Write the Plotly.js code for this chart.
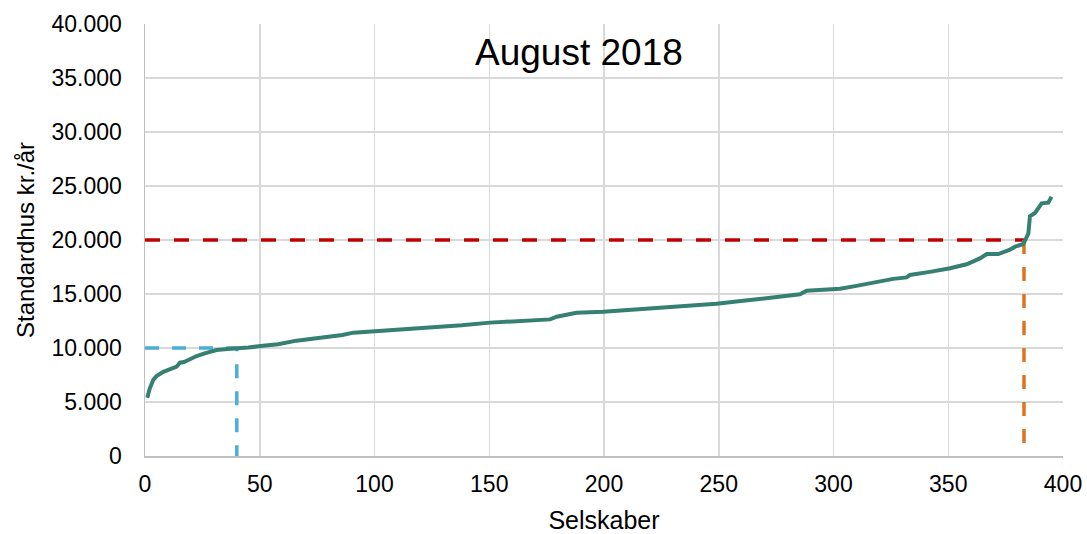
<!DOCTYPE html>
<html>
<head>
<meta charset="utf-8">
<script src="https://cdn.plot.ly/plotly-3.0.1.min.js"></script>
<style>html,body{margin:0;padding:0;background:#fff;}#chart{width:1087px;height:534px;}</style>
</head>
<body>
<div id="chart"></div>
<script>
// Sorted standard-house cost per company
const companyX = [1, 2, 3.6, 5, 8, 11, 13.8, 15.2, 17, 18.9, 22.5, 26, 31.2, 36, 39.9, 45, 51.5, 58, 66, 73, 80.6, 86, 90.8, 97, 103.8, 110, 118, 125.6, 138, 150.3, 163, 176.5, 179.4, 188, 199.7, 212.7, 220, 232, 241.8, 249, 263.6, 275, 285.4, 288.3, 302.8, 310, 318.8, 326, 331.8, 333.3, 342, 350.8, 358, 363.8, 366.8, 371.8, 376.9, 379.1, 382.7, 384.9, 385.6, 387.8, 390.7, 393.6, 395];
const costValues = [5400, 6200, 7050, 7400, 7800, 8050, 8270, 8640, 8700, 8890, 9260, 9500, 9810, 9900, 9950, 10050, 10200, 10350, 10680, 10850, 11000, 11200, 11420, 11500, 11600, 11700, 11800, 11900, 12100, 12350, 12500, 12650, 12900, 13270, 13360, 13580, 13670, 13850, 14070, 14100, 14440, 14700, 14970, 15300, 15490, 15750, 16140, 16400, 16540, 16760, 17050, 17380, 17750, 18300, 18700, 18700, 19100, 19380, 19630, 20600, 22200, 22500, 23400, 23460, 24000];

const lowLimitX = [0, 40, 40];
const lowLimitY = [10000, 10000, 0];
const highLimitX = [0, 383];
const highLimitY = [20000, 20000];
const cutX = [383, 383];
const cutY = [20000, 0];

const yTickVals = [0, 5000, 10000, 15000, 20000, 25000, 30000, 35000, 40000];
const yTickText = ["0", "5.000", "10.000", "15.000", "20.000", "25.000", "30.000", "35.000", "40.000"];
const xTickVals = [0, 50, 100, 150, 200, 250, 300, 350, 400];

const traces = [
  {x: lowLimitX, y: lowLimitY, mode: 'lines', line: {color: '#4aaed9', width: 3.5, dash: '14px,13px'}, hoverinfo: 'skip'},
  {x: highLimitX, y: highLimitY, mode: 'lines', line: {color: '#c00000', width: 3.5, dash: '15px,14px'}, hoverinfo: 'skip'},
  {x: cutX, y: cutY, mode: 'lines', line: {color: '#e07320', width: 3.5, dash: '14px,13px'}, hoverinfo: 'skip'},
  {x: companyX, y: costValues, mode: 'lines', line: {color: '#358070', width: 4}, name: 'Standardhus'}
];

const layout = {
  width: 1087, height: 534,
  margin: {l: 145, r: 24, t: 24, b: 78},
  paper_bgcolor: '#fff', plot_bgcolor: '#fff',
  showlegend: false,
  font: {family: 'Liberation Sans, Arial, sans-serif', color: '#000'},
  xaxis: {
    range: [0, 400], tickvals: xTickVals, ticks: '', ticklabelstandoff: 7,
    showgrid: true, gridcolor: '#d9d9d9', gridwidth: 1.5,
    showline: true, linecolor: '#bfbfbf', linewidth: 1.5, zeroline: false,
    tickfont: {size: 23},
    title: {text: 'Selskaber', font: {size: 25}, standoff: 16}
  },
  yaxis: {
    range: [0, 40000], tickvals: yTickVals, ticktext: yTickText, ticks: '', ticklabelstandoff: 17,
    showgrid: true, gridcolor: '#d9d9d9', gridwidth: 1.5,
    showline: true, linecolor: '#bfbfbf', linewidth: 1.5, zeroline: false,
    tickfont: {size: 23},
    title: {text: 'Standardhus kr./år', font: {size: 24}, standoff: 10}
  },
  annotations: [{
    text: 'August 2018', xref: 'paper', yref: 'paper', x: 0.473, y: 0.935,
    showarrow: false, font: {size: 37, color: '#000'}, xanchor: 'center', yanchor: 'middle'
  }]
};

Plotly.newPlot('chart', traces, layout, {displayModeBar: false, staticPlot: true});
</script>
</body>
</html>
